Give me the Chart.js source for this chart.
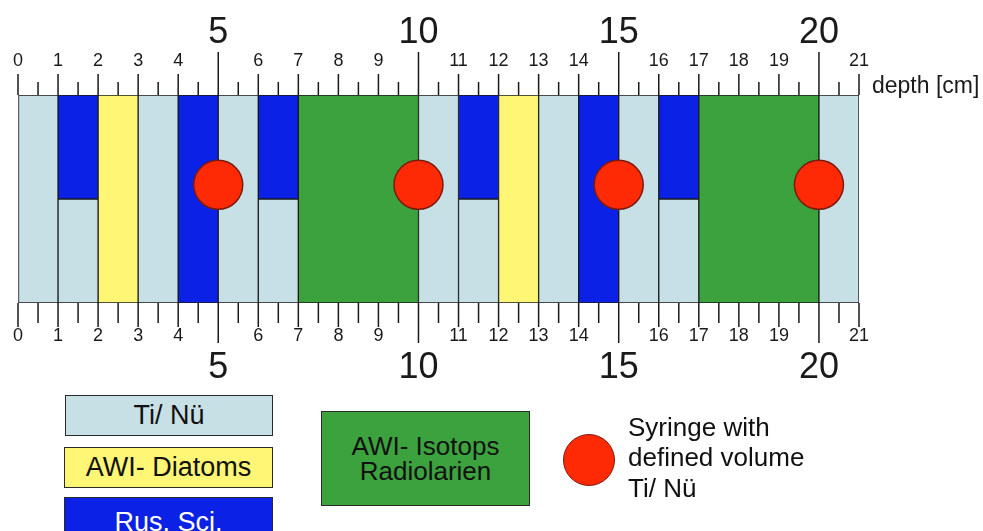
<!DOCTYPE html>
<html>
<head>
<meta charset="utf-8">
<script src="https://cdn.jsdelivr.net/npm/chart.js@4.4.1/dist/chart.umd.min.js"></script>
<style>
  html, body { margin: 0; padding: 0; background: #fff; }
  #wrap { position: relative; width: 983px; height: 531px; overflow: hidden; font-family: "Liberation Sans", Arial, sans-serif; }
  #coreChart { position: absolute; left: 0; top: 0; }
  .key { position: absolute; box-sizing: border-box; border: 1.5px solid #2a2a2a; display: flex; align-items: center; justify-content: center; text-align: center; font-size: 27px; line-height: 25px; }
  .key.wide { font-size: 26px; }
  .syringe-dot { position: absolute; border-radius: 50%; box-sizing: border-box; border: 1.5px solid #7d1a0e; }
  .syringe-text { position: absolute; font-size: 26px; line-height: 30.5px; color: #111; }
</style>
</head>
<body>
<div id="wrap">
  <canvas id="coreChart" width="983" height="531"></canvas>
  <div id="legend"></div>
</div>
<script>
// Tiefen-Abschnitte [von, bis] in cm
const tiNuFull = [[0, 1], [3, 4], [5, 6], [10, 11], [13, 14], [15, 16], [20, 21]];
const tiNuLowerHalf = [[1, 2], [6, 7], [11, 12], [16, 17]];
const diatomFull = [[2, 3], [12, 13]];
const rusFull = [[4, 5], [14, 15]];
const rusUpperHalf = [[1, 2], [6, 7], [11, 12], [16, 17]];
const isotopFull = [[7, 10], [17, 20]];
const syringeDepths = [5, 10, 15, 20];

const rowLabels = ['upper', 'lower'];
const smallTickLabels = [0, 1, 2, 3, 4, 6, 7, 8, 9, 11, 12, 13, 14, 16, 17, 18, 19, 21];
const bigTickLabels = [5, 10, 15, 20];
const axisTitle = 'depth [cm]';
const DEPTH_MAX = 21;

const COLORS = {
  tiNu: '#c6e0e5',
  diatom: '#fff675',
  rus: '#0b21e6',
  isotop: '#3ca23e',
  syringe: '#fd2a05',
  syringeEdge: '#7d1a0e',
  line: '#1a1a1a'
};

// vertical place of the syringe dots on the hidden helper axis (0 = top, 2 = bottom)
const SYRINGE_LEVEL = 0.85;

function spans(full, upperOnly, lowerOnly) {
  const out = [];
  full.forEach(r => {
    out.push({ x: r, y: 'upper', span: 'full' });
    out.push({ x: r, y: 'lower', span: 'full' });
  });
  upperOnly.forEach(r => out.push({ x: r, y: 'upper', span: 'half' }));
  lowerOnly.forEach(r => out.push({ x: r, y: 'lower', span: 'half' }));
  return out;
}

// full-height pieces are split over both rows, so hide the seam between them
function segBorder(ctx) {
  const r = ctx.raw;
  if (!r || r.span === 'half') return 1;
  return r.y === 'upper'
    ? { top: 1, left: 1, right: 1, bottom: 0 }
    : { top: 0, left: 1, right: 1, bottom: 1 };
}

function barSet(label, data, color) {
  return {
    label,
    data,
    backgroundColor: color,
    borderColor: COLORS.line,
    borderWidth: segBorder,
    borderSkipped: false,
    grouped: false,
    barPercentage: 1,
    categoryPercentage: 1,
    xAxisID: 'x',
    yAxisID: 'y',
    order: 1
  };
}

// big numbers sit further out from the ruler than the small ones
const tickFont = (ctx) => {
  const v = ctx.tick ? ctx.tick.value : 0;
  if (!bigTickLabels.includes(v)) return { size: 18, lineHeight: 1.2 };
  const isTop = ctx.scale && ctx.scale.id === 'xTop';
  return { size: 36, lineHeight: isTop ? '77.6px' : '85.6px' };
};

const tickLabel = (v) => (bigTickLabels.includes(v) || smallTickLabels.includes(v)) ? String(v) : '';

function depthAxis(position, tickLength) {
  return {
    type: 'linear',
    position,
    min: 0,
    max: DEPTH_MAX,
    grid: { display: true, drawOnChartArea: false, drawTicks: true, tickLength, tickColor: 'transparent' },
    border: { display: false },
    ticks: {
      stepSize: 1,
      autoSkip: false,
      maxRotation: 0,
      minRotation: 0,
      padding: 0,
      color: COLORS.line,
      font: tickFont,
      callback: tickLabel
    }
  };
}

// Lineal oben und unten, Striche alle 0,5 cm
const rulerPlugin = {
  id: 'ruler',
  afterDatasetsDraw(chart) {
    const { ctx, chartArea, scales } = chart;
    ctx.save();
    ctx.strokeStyle = COLORS.line;
    ctx.lineWidth = 1.5;
    for (let v = 0; v <= DEPTH_MAX; v += 0.5) {
      const isBig = bigTickLabels.includes(v);
      const isInt = Number.isInteger(v);
      const topLen = isBig ? 43 : isInt ? 21 : 13;
      const botLen = isBig ? 40 : isInt ? 24 : 20;
      const xt = scales.xTop.getPixelForValue(v);
      const xb = scales.x.getPixelForValue(v);
      ctx.beginPath();
      ctx.moveTo(xt, chartArea.top);
      ctx.lineTo(xt, chartArea.top - topLen);
      ctx.moveTo(xb, chartArea.bottom);
      ctx.lineTo(xb, chartArea.bottom + botLen);
      ctx.stroke();
    }
    ctx.fillStyle = COLORS.line;
    ctx.font = '23px "Liberation Sans", Arial, sans-serif';
    ctx.textBaseline = 'middle';
    ctx.textAlign = 'left';
    ctx.fillText(axisTitle, chartArea.right + 13, chartArea.top - 8);
    ctx.restore();
  }
};

Chart.defaults.font.family = '"Liberation Sans", Arial, sans-serif';

const chart = new Chart(document.getElementById('coreChart'), {
  type: 'bar',
  data: {
    datasets: [
      {
        type: 'scatter',
        label: 'Syringe with defined volume Ti/ Nü',
        data: syringeDepths.map(d => ({ x: d, y: SYRINGE_LEVEL })),
        pointRadius: 24.5,
        pointBackgroundColor: COLORS.syringe,
        pointBorderColor: COLORS.syringeEdge,
        pointBorderWidth: 1.5,
        xAxisID: 'x',
        yAxisID: 'yPos',
        order: 0
      },
      barSet('Ti/ Nü', spans(tiNuFull, [], tiNuLowerHalf), COLORS.tiNu),
      barSet('AWI- Diatoms', spans(diatomFull, [], []), COLORS.diatom),
      barSet('Rus. Sci.', spans(rusFull, rusUpperHalf, []), COLORS.rus),
      barSet('AWI- Isotops Radiolarien', spans(isotopFull, [], []), COLORS.isotop)
    ]
  },
  options: {
    indexAxis: 'y',
    responsive: false,
    animation: false,
    events: [],
    layout: { autoPadding: false, padding: { top: -5.8, bottom: 120.2, left: 18, right: 124 } },
    plugins: {
      legend: { display: false },
      tooltip: { enabled: false }
    },
    scales: {
      x: depthAxis('bottom', 22.2),
      xTop: depthAxis('top', 23.2),
      y: { type: 'category', labels: rowLabels, offset: true, display: false },
      yPos: { type: 'linear', min: 0, max: 2, reverse: true, display: false }
    }
  },
  plugins: [rulerPlugin]
});

// Legende als HTML unter dem Diagramm
const legendEl = document.getElementById('legend');
const legendBoxes = [
  { text: 'Ti/ Nü', color: COLORS.tiNu, ink: '#111', left: 65, top: 395, w: 208, h: 41 },
  { text: 'AWI- Diatoms', color: COLORS.diatom, ink: '#111', left: 64, top: 447, w: 209, h: 41 },
  { text: 'Rus. Sci.', color: COLORS.rus, ink: '#fff', left: 64, top: 497, w: 209, h: 50 },
  { text: 'AWI- Isotops<br>Radiolarien', color: COLORS.isotop, ink: '#111', left: 321, top: 411, w: 209, h: 95, cls: 'wide' }
];
legendBoxes.forEach(b => {
  const el = document.createElement('div');
  el.className = 'key' + (b.cls ? ' ' + b.cls : '');
  el.style.cssText = `left:${b.left}px;top:${b.top}px;width:${b.w}px;height:${b.h}px;background:${b.color};color:${b.ink};`;
  el.innerHTML = b.text;
  legendEl.appendChild(el);
});

const dot = document.createElement('div');
dot.className = 'syringe-dot';
dot.style.cssText = `left:563px;top:434px;width:52px;height:52px;background:${COLORS.syringe};`;
legendEl.appendChild(dot);

const syrText = document.createElement('div');
syrText.className = 'syringe-text';
syrText.style.cssText = 'left:628px;top:411.5px;';
syrText.innerHTML = 'Syringe with<br>defined volume<br>Ti/ Nü';
legendEl.appendChild(syrText);
</script>
</body>
</html>
